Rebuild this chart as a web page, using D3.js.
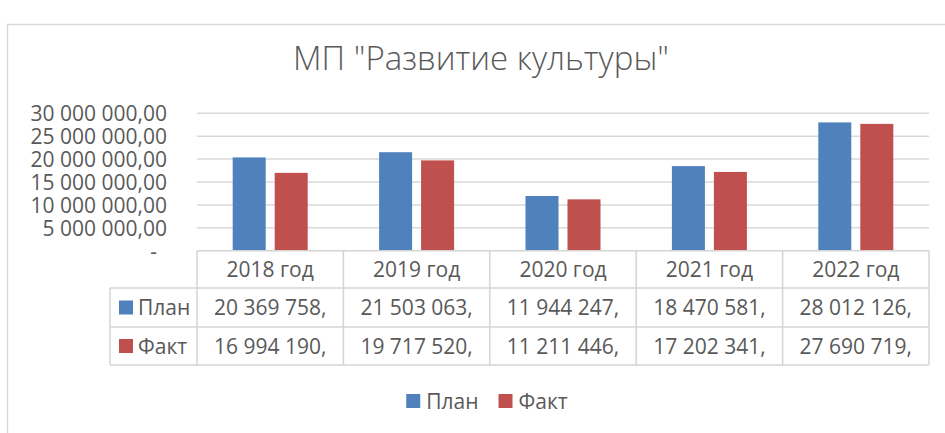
<!DOCTYPE html>
<html lang="ru">
<head>
<meta charset="UTF-8">
<script src="https://d3js.org/d3.v7.min.js"></script>
<title>МП "Развитие культуры"</title>
<style>
    body { margin: 0; background: #fff; }
    svg { display: block; font-family: "Open Sans", sans-serif; }
    .grid line { stroke: #d9d9d9; stroke-width: 1.5px; }
    .tbl line { stroke: #d4d4d4; stroke-width: 1.5px; }
    text { fill: #595959; }
</style>
</head>
<body>
<script>
    // ---------- data ----------
    const years = ["2018 год", "2019 год", "2020 год", "2021 год", "2022 год"];
    const seriesNames = ["План", "Факт"];
    const planValues = [20369758, 21503063, 11944247, 18470581, 28012126];
    const factValues = [16994190, 19717520, 11211446, 17202341, 27690719];
    const yTicks = [0, 5000000, 10000000, 15000000, 20000000, 25000000, 30000000];
    const colors = ["#4f81bd", "#c0504d"];

    const series = [planValues, factValues];

    // ---------- layout ----------
    const W = 945, H = 433;
    const plot = { left: 197, right: 929, top: 113.3, bottom: 250.7 };
    const rows = [plot.bottom, 288, 327, 365];   // table row lines
    const tblLeft = 110;
    const fs = 21;

    const ru = d3.formatLocale({ decimal: ",", thousands: " ", grouping: [3], currency: ["", ""] });
    const fmtAxis = ru.format(",.2f");
    const fmtCell = ru.format(",d");

    const svg = d3.select("body").append("svg")
        .attr("width", W)
        .attr("height", H);

    // chart frame
    svg.append("rect")
        .attr("x", 7.5).attr("y", 24.5)
        .attr("width", W + 20).attr("height", H + 20)
        .attr("fill", "none")
        .attr("stroke", "#d9d9d9")
        .attr("stroke-width", 1.5);

    // title
    svg.append("text")
        .attr("x", 481).attr("y", 70)
        .attr("text-anchor", "middle")
        .style("font-size", "33px")
        .style("font-weight", 300)
        .text('МП "Развитие культуры"');

    // ---------- scales ----------
    const x = d3.scaleBand().domain(years).range([plot.left, plot.right]);
    const xInner = d3.scaleBand().domain(seriesNames)
        .range([0, x.bandwidth()])
        .paddingInner(0.214)
        .paddingOuter(0.85);
    const y = d3.scaleLinear().domain([0, 30000000]).range([plot.bottom, plot.top]);

    // gridlines
    svg.append("g").attr("class", "grid")
        .selectAll("line")
        .data(yTicks.filter(d => d > 0))
        .join("line")
        .attr("x1", plot.left).attr("x2", plot.right)
        .attr("y1", d => y(d)).attr("y2", d => y(d));

    // y axis labels
    const yAxis = svg.append("g")
        .attr("transform", `translate(${plot.left},0)`)
        .call(d3.axisLeft(y).tickValues(yTicks).tickSize(0).tickPadding(30)
            .tickFormat(d => d === 0 ? "-" : fmtAxis(d)));
    yAxis.select(".domain").remove();
    yAxis.selectAll("text")
        .attr("fill", "#595959")
        .style("font-size", fs + "px")
        .style("font-family", "'Open Sans', sans-serif")
        .attr("dy", "0.36em")
        .attr("x", d => d === 0 ? -40 : -30);

    // bars
    svg.append("g").selectAll("g")
        .data(series)
        .join("g")
        .attr("fill", (d, i) => colors[i])
        .selectAll("rect")
        .data((vals, si) => vals.map((v, i) => ({ year: years[i], name: seriesNames[si], v })))
        .join("rect")
        .attr("x", d => x(d.year) + xInner(d.name))
        .attr("width", xInner.bandwidth())
        .attr("y", d => y(d.v))
        .attr("height", d => y(0) - y(d.v));

    // ---------- data table ----------
    const tbl = svg.append("g").attr("class", "tbl");
    // horizontal lines
    tbl.selectAll("line.h")
        .data(rows)
        .join("line")
        .attr("x1", (d, i) => i === 0 ? plot.left : tblLeft)
        .attr("x2", plot.right)
        .attr("y1", d => d).attr("y2", d => d);
    // vertical lines
    const vx = years.map(d => x(d)).concat([plot.right]);
    tbl.selectAll("line.v")
        .data(vx)
        .join("line")
        .attr("x1", d => d).attr("x2", d => d)
        .attr("y1", rows[0]).attr("y2", rows[3]);
    tbl.append("line")
        .attr("x1", tblLeft).attr("x2", tblLeft)
        .attr("y1", rows[1]).attr("y2", rows[3]);

    const rowMid = i => (rows[i] + rows[i + 1]) / 2;

    // header
    svg.append("g").selectAll("text")
        .data(years)
        .join("text")
        .attr("x", d => x(d) + x.bandwidth() / 2)
        .attr("y", rowMid(0))
        .attr("dy", "0.36em")
        .attr("text-anchor", "middle")
        .style("font-size", fs + "px")
        .text(d => d);

    // value rows
    series.forEach((vals, si) => {
        const g = svg.append("g");
        g.selectAll("text")
            .data(vals)
            .join("text")
            .attr("x", (d, i) => x(years[i]) + x.bandwidth() / 2)
            .attr("y", rowMid(si + 1))
            .attr("dy", "0.36em")
            .attr("text-anchor", "middle")
            .style("font-size", fs + "px")
            .text(d => fmtCell(d) + ",");
        g.append("rect")
            .attr("x", 119).attr("y", rowMid(si + 1) - 7)
            .attr("width", 14).attr("height", 14)
            .attr("fill", colors[si]);
        g.append("text")
            .attr("x", 138).attr("y", rowMid(si + 1))
            .attr("dy", "0.36em")
            .style("font-size", fs + "px")
            .text(seriesNames[si]);
    });

    // ---------- legend ----------
    const legend = svg.append("g");
    const items = legend.selectAll("g")
        .data(seriesNames)
        .join("g");
    items.append("rect")
        .attr("width", 14).attr("height", 14)
        .attr("y", -7)
        .attr("fill", (d, i) => colors[i]);
    items.append("text")
        .attr("x", 20)
        .attr("dy", "0.36em")
        .style("font-size", fs + "px")
        .text(d => d);
    let cx = 0;
    items.each(function () {
        const w = this.getBBox().width;
        d3.select(this).attr("transform", `translate(${cx},0)`);
        cx += w + 20;
    });
    const total = cx - 20;
    legend.attr("transform", `translate(${487 - total / 2},401)`);
</script>
</body>
</html>
